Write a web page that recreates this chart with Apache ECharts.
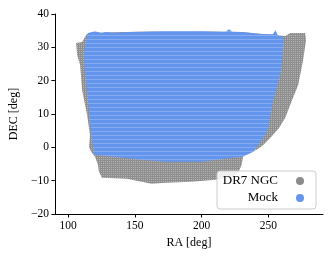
<!DOCTYPE html>
<html><head><meta charset="utf-8">
<script src="https://cdn.jsdelivr.net/npm/echarts@6/dist/echarts.min.js"></script>
<style>html,body{margin:0;padding:0;background:#fff}#c{width:332px;height:256px}</style>
</head><body><div id="c"></div>
<script>
// ---- data (footprint outlines, RA/DEC in degrees) ----
const seriesNames = ['DR7 NGC', 'Mock'];
const dr7RA  = [105.9,110.4,113.4,114.9,150.0,184.7,230.0,262.7,266.4,277.6,278.3,276.1,272.4,267.9,262.7,258.2,251.6,245.6,241.2,231.5,230.0,227.8,223.3,210.7,192.1,173.6,162.4,151.3,143.8,125.3,123.0,122.3,120.1,117.1,115.6,116.3,114.1,110.4,108.9,106.7];
const dr7DEC = [31.3,31.6,33.7,34.3,34.7,34.9,34.6,33.4,34.3,34.3,32.2,26.2,18.7,14.3,8.9,5.9,2.9,0.5,-0.7,-1.9,-5.2,-7.3,-8.8,-9.7,-10.3,-10.6,-10.9,-10.0,-9.4,-9.1,-7.3,-5.2,-2.8,-1.3,0.2,3.8,9.8,17.2,24.7,27.7];
const mockRA  = [114.9,120.0,125.3,128.0,135.0,147.5,174.3,199.6,218.0,220.5,223.0,230.0,244.1,253.5,255.3,257.0,262.0,261.2,259.7,256.0,253.8,250.1,247.8,242.6,238.9,230.8,223.3,199.6,173.6,155.0,134.2,119.3,119.3,117.8,116.3,114.9,112.6,111.9,113.4];
const mockDEC = [34.3,34.8,34.3,34.6,34.4,34.6,34.9,34.9,34.7,35.4,34.7,34.6,34.0,33.9,35.2,33.7,32.8,30.7,23.2,17.2,14.3,5.9,3.8,0.8,-1.3,-2.8,-3.1,-4.3,-4.3,-3.7,-2.8,-2.2,-0.7,2.3,8.3,14.3,23.2,27.7,32.2];
const xTicks = [100, 150, 200, 250];
const yTicks = [-20, -10, 0, 10, 20, 30, 40];
const colors = ['#8c8c8c', '#6495ED'];
// ---------------------------------------------------------------------------

function makePattern(base, light, w, h, lightCells) {
  const c = document.createElement('canvas');
  c.width = w; c.height = h;
  const ctx = c.getContext('2d');
  ctx.fillStyle = base; ctx.fillRect(0, 0, w, h);
  ctx.fillStyle = light;
  lightCells.forEach(p => ctx.fillRect(p[0], p[1], p[2], p[3]));
  return { image: c, repeat: 'repeat' };
}
const grayPat = makePattern('#8e8e8e', '#b4b4b4', 2, 2, [[1, 1, 1, 1]]);
const bluePat = makePattern('#6495ED', '#86abf0', 1, 4, [[0, 3, 1, 1]]);

function polySeries(name, ras, decs, color, pat) {
  return {
    type: 'custom', name: name,
    itemStyle: { color: color },
    data: ras.map((r, i) => [r, decs[i]]),
    renderItem: function (params, api) {
      if (params.dataIndex !== 0) return null;
      const pts = ras.map((r, i) => api.coord([r, decs[i]]));
      return { type: 'polygon', shape: { points: pts }, style: { fill: pat } };
    },
    silent: true, animation: false
  };
}

const font = 'Liberation Serif';
const chart = echarts.init(document.getElementById('c'), null, { renderer: 'canvas' });
chart.setOption({
  animation: false,
  grid: { left: 52, right: 9, top: 14, bottom: 42 },
  xAxis: {
    type: 'value', min: 90, max: 291,
    name: 'RA [deg]', nameLocation: 'middle', nameGap: 19,
    nameTextStyle: { fontFamily: font, fontSize: 12, color: '#000' },
    axisLine: { show: true, onZero: false, lineStyle: { color: '#000', width: 1 } },
    axisTick: { show: true, length: 3.5, customValues: xTicks, lineStyle: { color: '#000' } },
    axisLabel: { customValues: xTicks, margin: 6, fontFamily: font, fontSize: 11.5, color: '#000' },
    splitLine: { show: false }
  },
  yAxis: {
    type: 'value', min: yTicks[0], max: yTicks[yTicks.length - 1], interval: 10,
    name: 'DEC [deg]', nameLocation: 'middle', nameGap: 31,
    nameTextStyle: { fontFamily: font, fontSize: 12, color: '#000' },
    axisLine: { show: true, onZero: false, lineStyle: { color: '#000', width: 1 } },
    axisTick: { show: true, length: 3.5, lineStyle: { color: '#000' } },
    axisLabel: { margin: 6, fontFamily: font, fontSize: 11.5, color: '#000',
      formatter: v => String(v).replace('-', '\u2212') },
    splitLine: { show: false }
  },
  legend: {
    orient: 'vertical', right: 16, bottom: 47, align: 'right',
    data: seriesNames.map(n => ({ name: n, icon: 'circle' })),
    itemWidth: 8, itemHeight: 8, itemGap: 3,
    padding: [3, 12, 4, 5],
    backgroundColor: 'rgba(255,255,255,0.85)', borderColor: '#cccccc', borderWidth: 1, borderRadius: 3,
    textStyle: { fontFamily: font, fontSize: 13, color: '#000', width: 56, lineHeight: 14, padding: [0, 13, 0, 0] }
  },
  series: [
    polySeries(seriesNames[0], dr7RA, dr7DEC, colors[0], grayPat),
    polySeries(seriesNames[1], mockRA, mockDEC, colors[1], bluePat)
  ]
});
</script></body></html>
